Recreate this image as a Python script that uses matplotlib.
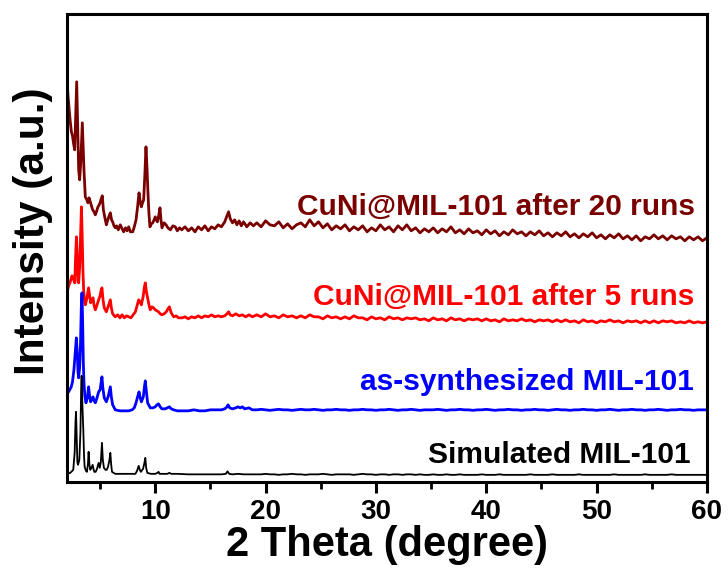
import matplotlib
matplotlib.use("Agg")
import matplotlib.pyplot as plt
from matplotlib.ticker import MultipleLocator
import numpy as np

plt.rcParams['font.family'] = ['Liberation Sans', 'DejaVu Sans']
plt.rcParams['font.weight'] = 'bold'

# XRD patterns, intensity (stacked, arbitrary units)
# low-angle part, sampled by hand around the peaks
tt_run20 = [2.02, 2.1, 2.2, 2.3, 2.4, 2.5, 2.6, 2.7, 2.8, 2.88, 2.96, 3.06, 3.15, 3.25, 3.39, 3.47,
            3.54, 3.66, 3.8, 3.9, 4.0, 4.11, 4.22, 4.33, 4.45, 4.57, 4.7, 4.81, 4.92, 5.0, 5.1, 5.2,
            5.3, 5.42, 5.57, 5.7, 5.82, 5.93, 6.04, 6.14, 6.26, 6.38, 6.5, 6.65, 6.83, 7.0, 7.14, 7.3,
            7.45, 7.59, 7.75, 7.96, 8.1, 8.26, 8.4, 8.53, 8.64, 8.74, 8.85, 8.95, 9.05, 9.16, 9.25,
            9.34, 9.43, 9.52, 9.65, 9.77, 9.9, 10.0, 10.1, 10.19, 10.31, 10.43, 10.52, 10.61, 10.8,
            10.98, 11.15, 11.37, 11.6, 11.82, 12.0, 12.2, 12.4, 12.7, 13.0, 13.3, 13.6, 13.9, 14.2,
            14.5, 14.8, 15.1, 15.4, 15.7, 16.0, 16.3, 16.5, 16.65, 16.8, 17.0, 17.2, 17.4, 17.6,
            17.8, 18.0, 18.3, 18.6, 18.9]
int_run20 = [398, 385, 372, 360, 350, 346, 338, 332, 370, 400, 360, 312, 302, 320, 359, 335,
             312, 285, 282, 279, 284, 280, 276, 272, 270, 267, 271, 275, 277, 279, 283, 286,
             272, 265, 257, 262, 266, 269, 262, 260, 256, 254, 256, 252, 257, 253, 250, 254,
             251, 255, 250, 250, 255, 262, 275, 289, 280, 275, 279, 282, 305, 335, 315,
             289, 268, 255, 258, 259, 262, 265, 262, 260, 266, 274, 262, 254, 259,
             257, 254, 252, 256, 255, 251, 254, 252, 255, 251, 254, 250, 255, 252,
             256, 251, 255, 253, 257, 255, 260, 266, 270, 263, 259, 262, 257, 261,
             256, 260, 255, 259, 256]

tt_run5 = [2.02, 2.15, 2.3, 2.45, 2.55, 2.7, 2.8, 2.86, 2.93, 3.0, 3.06, 3.15, 3.25, 3.31, 3.38,
           3.45, 3.51, 3.6, 3.66, 3.8, 3.96, 4.05, 4.15, 4.25, 4.36, 4.46, 4.57, 4.7, 4.87, 5.0,
           5.1, 5.17, 5.27, 5.38, 5.57, 5.75, 5.93, 6.02, 6.14, 6.38, 6.6, 6.8, 6.99, 7.2, 7.4,
           7.59, 7.8, 8.0, 8.2, 8.35, 8.5, 8.62, 8.74, 8.9, 9.02, 9.1, 9.2, 9.34, 9.45, 9.55,
           9.7, 9.85, 10.0, 10.15, 10.3, 10.45, 10.6, 10.8, 11.0, 11.15, 11.28, 11.45, 11.67,
           11.9, 12.1, 12.43, 12.7, 13.0, 13.3, 13.6, 13.9, 14.2, 14.5, 14.8, 15.1, 15.4, 15.7,
           16.0, 16.3, 16.5, 16.65, 16.8, 17.0, 17.3, 17.6, 17.9, 18.2, 18.5, 18.8]
int_run5 = [190, 196, 200, 206, 204, 199, 230, 245, 225, 200, 199, 215, 255, 275, 245,
            210, 192, 180, 177, 183, 194, 186, 179, 182, 184, 176, 172, 176, 182, 186,
            192, 194, 182, 174, 170, 176, 182, 174, 168, 165, 167, 164, 167, 164, 166,
            165, 164, 167, 170, 176, 182, 180, 177, 185, 195, 199, 190, 182, 176, 172,
            175, 174, 172, 171, 170, 168, 167, 168, 170, 173, 175, 169, 165,
            166, 164, 164, 165, 163, 165, 164, 166, 164, 166, 165, 167, 165, 166,
            165, 166, 168, 170, 167, 166, 168, 166, 167, 165, 167, 165]

tt_synth = [2.02, 2.2, 2.39, 2.5, 2.63, 2.75, 2.85, 2.93, 3.0, 3.06, 3.15, 3.22, 3.3, 3.36, 3.42,
            3.48, 3.54, 3.62, 3.72, 3.85, 3.96, 4.05, 4.15, 4.25, 4.36, 4.46, 4.57, 4.72, 4.87,
            5.0, 5.1, 5.17, 5.25, 5.38, 5.57, 5.75, 5.93, 6.02, 6.14, 6.38, 6.8, 7.2, 7.59, 7.9,
            8.1, 8.26, 8.4, 8.53, 8.64, 8.74, 8.85, 8.92, 9.02, 9.1, 9.18, 9.31, 9.55, 9.8, 10.0,
            10.15, 10.3, 10.45, 10.6, 10.9, 11.1, 11.28, 11.45, 11.67, 12.0, 12.5, 13.0, 13.5,
            14.0, 14.5, 15.0, 15.5, 16.0, 16.3, 16.5, 16.6, 16.75, 17.0, 17.3, 17.5, 17.7, 17.9,
            18.1, 18.5, 18.8]
int_synth = [88, 91, 95, 100, 112, 130, 144, 130, 110, 104, 115, 135, 175, 189, 160,
             120, 99, 86, 79, 84, 95, 86, 80, 83, 85, 81, 79, 84, 90,
             92, 100, 105, 94, 84, 80, 86, 95, 85, 77, 72, 71, 71, 71, 72,
             74, 79, 85, 90, 84, 80, 83, 85, 95, 101, 92, 79, 74, 74, 75,
             77, 78, 75, 73, 73, 74, 75, 73, 72, 71, 71, 71, 72,
             71, 71, 72, 72, 72, 73, 75, 77, 74, 73, 74, 75, 74, 75,
             73, 74, 72]

tt_sim = [2.02, 2.3, 2.57, 2.7, 2.77, 2.82, 2.88, 2.94, 3.0, 3.12, 3.22, 3.29, 3.33, 3.39, 3.48,
          3.55, 3.6, 3.72, 3.81, 3.9, 3.96, 4.03, 4.11, 4.22, 4.33, 4.42, 4.48, 4.6, 4.72, 4.87,
          4.97, 5.07, 5.17, 5.25, 5.35, 5.5, 5.6, 5.72, 5.85, 5.93, 6.0, 6.08, 6.38, 7.0, 7.6,
          8.2, 8.35, 8.5, 8.6, 8.7, 8.82, 8.9, 9.02, 9.1, 9.18, 9.28, 9.6, 10.0, 10.2, 10.3,
          10.4, 10.8, 11.1, 11.28, 11.45, 12.0, 13.0, 14.0, 15.0, 16.0, 16.4, 16.55, 16.7, 17.0,
          17.5, 18.0, 18.8]
int_sim = [8, 9, 12, 30, 60, 70, 45, 20, 17, 22, 50, 95, 106, 80, 52,
           25, 15, 11, 10, 18, 30, 18, 12, 14, 17, 12, 10, 10, 13, 19,
           14, 20, 39, 22, 14, 12, 12, 15, 22, 29, 18, 10, 8, 8, 8,
           8, 11, 16, 12, 10, 12, 13, 19, 24, 14, 9, 8, 8, 9, 10,
           8, 8, 8, 9, 8, 8, 7.5, 7.5, 7.5, 7.5, 8, 10.5, 8, 7.5,
           8, 7.5, 7.5]

# high-angle part, read every 0.4 degree from 19.2 to 60
tt_tail = np.linspace(19.2, 60.0, 103)
tail_run20 = [259, 255, 261, 257, 256, 260, 254, 258, 253, 257,
              259, 255, 262, 256, 260, 254, 258, 252, 256, 253,
              257, 251, 255, 252, 256, 250, 254, 251, 257, 252,
              255, 250, 256, 252, 257, 251, 254, 249, 253, 250,
              254, 249, 253, 250, 255, 249, 252, 248, 253, 249,
              251, 247, 252, 248, 251, 246, 250, 247, 252, 248,
              250, 246, 250, 247, 251, 246, 249, 245, 249, 246,
              250, 245, 248, 244, 248, 245, 249, 244, 247, 243,
              247, 244, 248, 243, 246, 242, 246, 241, 245, 243,
              247, 243, 246, 242, 246, 243, 245, 241, 245, 242,
              245, 241, 244]
tail_run5 = [167, 165, 168, 165, 166, 164, 167, 165, 166, 164,
             166, 164, 167, 165, 165, 163, 166, 164, 165, 163,
             165, 163, 166, 164, 164, 162, 165, 163, 164, 162,
             165, 163, 164, 162, 164, 163, 164, 162, 163, 161,
             164, 162, 163, 161, 164, 162, 163, 161, 163, 162,
             163, 161, 163, 161, 162, 160, 163, 161, 162, 161,
             163, 161, 162, 160, 162, 161, 162, 160, 162, 160,
             162, 160, 161, 159, 162, 160, 161, 159, 161, 160,
             162, 160, 161, 159, 161, 160, 161, 159, 161, 159,
             161, 159, 161, 160, 161, 159, 160, 159, 161, 159,
             160, 159, 160]
tail_synth = [72, 72.5, 72, 71.5, 72, 72.5, 72, 72, 71.5, 72,
              72.5, 72, 72, 72.5, 72, 71.5, 72, 72, 72.5, 72,
              72, 71.5, 72, 72, 72.5, 72, 72, 71.5, 72, 72,
              72.5, 72, 71.5, 72, 72, 72.5, 72, 71.5, 72, 72,
              72, 72.5, 72, 71.5, 72, 72, 72.5, 72, 72, 71.5,
              72, 72, 72.5, 72, 71.5, 72, 72, 72.5, 72, 72,
              71.5, 72, 72, 72.5, 72, 72, 71.5, 72, 72.5, 72,
              72, 71.5, 72, 72, 72.5, 72, 72, 71.5, 72, 72,
              72.5, 72, 71.5, 72, 72, 72.5, 72, 72, 71.5, 72,
              72, 72.5, 72, 71.5, 72, 72, 72.5, 72, 72, 71.5,
              72, 72, 72]
tail_sim = [7.5, 7.5, 8, 7.5, 7.5, 7, 7.5, 7.5, 8, 7.5,
            7.5, 7, 7.5, 7.5, 7.5, 8, 7.5, 7, 7.5, 7.5,
            7.5, 7.5, 7, 7.5, 8, 7.5, 7.5, 7, 7.5, 7.5,
            7, 7.5, 7.5, 7, 7.5, 7.5, 7, 7.5, 7, 7,
            7.5, 7, 7, 7.5, 7, 7, 7.5, 7, 7, 7,
            7, 7.5, 7, 7, 7, 7.5, 7, 7, 7, 7,
            7, 7, 7.5, 7, 7, 7, 7, 7.5, 7, 7,
            7, 7, 7, 7.5, 7, 7, 7, 7, 7, 7,
            7, 7.5, 7, 7, 7, 7, 7, 7, 7.5, 7,
            7, 7, 7, 7, 7.5, 7, 7, 7, 7, 7,
            7, 7, 7]

labels = ["CuNi@MIL-101 after 20 runs", "CuNi@MIL-101 after 5 runs",
          "as-synthesized MIL-101", "Simulated MIL-101"]
colors = ["#7a0000", "#ff0000", "#0000ff", "#000000"]
label_x = [58.9, 58.9, 58.8, 58.5]
label_y = [267, 177, 92, 19]

series = [(tt_run20, int_run20, tail_run20), (tt_run5, int_run5, tail_run5),
          (tt_synth, int_synth, tail_synth), (tt_sim, int_sim, tail_sim)]

fig = plt.figure(figsize=(7.28, 5.75), dpi=100)
ax = fig.add_axes([0.092, 0.162, 0.879, 0.814])

for (tt, inten, tail), c, lab, lx, ly in zip(series, colors, labels, label_x, label_y):
    x = np.concatenate([tt, tt_tail])
    y = np.concatenate([inten, tail])
    lw = 1.3 if c == "#000000" else 2.0
    ax.plot(x, y, color=c, lw=lw)
    ax.text(lx, ly, lab, color=c, fontsize=21.5, fontweight='bold', ha='right', va='baseline')

ax.set_xlim(2, 60)
ax.set_ylim(0, 468)
ax.xaxis.set_major_locator(MultipleLocator(10))
ax.xaxis.set_minor_locator(MultipleLocator(5))
ax.set_yticks([])
ax.tick_params(axis='x', which='major', direction='out', length=8, width=2.2,
               labelsize=20, pad=4)
ax.tick_params(axis='x', which='minor', direction='out', length=5, width=2.0)
for lab in ax.get_xticklabels():
    lab.set_fontweight('bold')
for sp in ax.spines.values():
    sp.set_linewidth(2.2)

ax.set_xlabel('2 Theta (degree)', fontsize=30, fontweight='bold', labelpad=0)
ax.set_ylabel('Intensity (a.u.)', fontsize=30.5, fontweight='bold', labelpad=10, y=0.535)

fig.savefig('out.png', dpi=100)
